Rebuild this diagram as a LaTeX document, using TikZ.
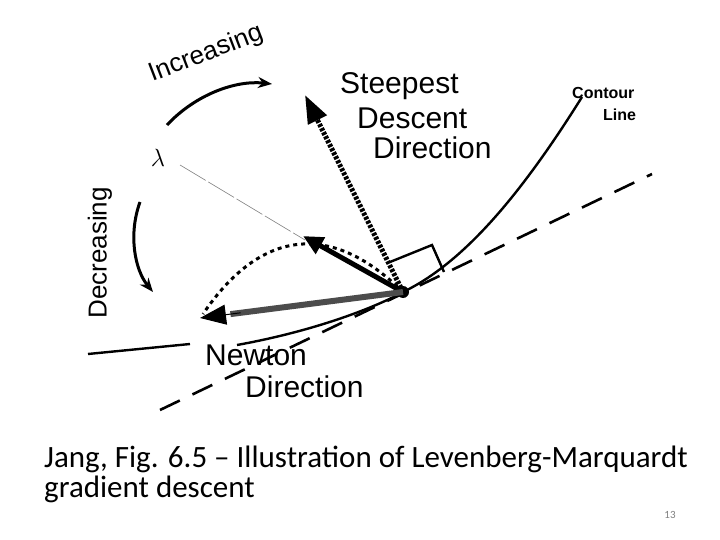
\documentclass[tikz,border=0pt]{standalone}
\usepackage{fontspec}
\setmainfont{Liberation Sans}
\newfontfamily\capfont{Carlito}
\usetikzlibrary{arrows.meta,calc}
\begin{document}
\begin{tikzpicture}[x=1pt,y=-1pt,
  lbl/.style={font=\fontsize{30}{30}\selectfont, inner sep=0, anchor=west},
  small/.style={font=\bfseries\fontsize{16}{16}\selectfont, inner sep=0, anchor=west},
  curvy/.style={line width=3pt, -{Stealth[length=14pt,width=11pt]}}]
\useasboundingbox (0,0) rectangle (720,540);
\fill[white] (0,0) rectangle (720,540);
% point
\coordinate (P) at (403,292);
\fill (P) circle (6);
% tangent dashed line
\coordinate (T1) at (160,410);
\coordinate (T2) at (652,174);
\draw[line width=2.6pt, dash pattern=on 22pt off 14pt] (T1) -- (T2);
% contour line
\coordinate (C0) at (88,354);
\coordinate (C1) at (190,344);
\coordinate (C2) at (237,345);
\coordinate (C3) at (582,97);
\draw[line width=2.4pt] (C0) -- (C1);
\draw[line width=2.4pt] (C2) .. controls (320,330) and (380,305) .. (P) .. controls (470,260) and (530,180) .. (C3);
% right angle marker
\coordinate (R1) at (390,262);
\coordinate (R2) at (432,245);
\coordinate (R3) at (444,272);
\draw[line width=2.4pt] (R1) -- (R2) -- (R3);
% thin gray line from lambda
\coordinate (L1) at (180,165);
\coordinate (L2) at (305,240);
\draw[gray, line width=0.6pt, dash pattern=on 30pt off 3pt] (L1) -- (L2);
% dotted arc
\coordinate (D) at (203,314);
\draw[line width=3pt, dash pattern=on 4pt off 4pt] (P) .. controls (330,220) and (260,230) .. (D);
% steepest descent arrow
\coordinate (S) at (305,95);
\draw[line width=5pt, dash pattern=on 3pt off 1.5pt, -{Triangle[length=28pt,width=20pt]}] (P) -- (S);
% small arrow
\coordinate (M) at (303,236);
\draw[line width=5pt, -{Triangle[length=20pt,width=18pt]}] (P) -- (M);
% newton arrow
\coordinate (N) at (200,318);
\draw[gray!60!black, line width=6pt] (P) -- ($(P)!0.85!(N)$);
\draw[line width=1pt, -{Triangle[length=26pt,width=20pt]}] ($(P)!0.8!(N)$) -- (N);
% lambda and arcs
\node[font=\fontsize{46}{46}\selectfont, inner sep=0] (lam) at (158,158) {$\lambda$};
\coordinate (I1) at (167,125);
\coordinate (I2) at (272,84);
\draw[curvy] (I1) .. controls (195,95) and (235,80) .. (I2);
\coordinate (De1) at (140,202);
\coordinate (De2) at (153,292);
\draw[curvy] (De1) .. controls (128,235) and (135,270) .. (De2);
\node[font=\fontsize{26}{26}\selectfont, rotate=21, inner sep=0] (inc) at (206,54) {Increasing};
\node[font=\fontsize{26}{26}\selectfont, rotate=90, inner sep=0] (dec) at (100,253) {Decreasing};
% labels
\node[lbl] (s1) at (340,86) {Steepest};
\node[lbl] (s2) at (357,118) {Descent};
\node[lbl] (s3) at (373,148) {Direction};
\node[small] (c1) at (572,93) {Contour};
\node[small] (c2) at (603,115) {Line};
\node[lbl] (n1) at (205,355) {Newton};
\node[lbl] (n2) at (245,387) {Direction};
% caption
\node[font=\capfont\fontsize{31}{30}\selectfont, anchor=north west, align=left, inner sep=0] (cap) at (44,446) {Jang, Fig. 6.5 – Illustration of Levenberg-Marquardt\\gradient descent};
\node[font=\capfont\fontsize{11}{11}\selectfont, text=gray, inner sep=0] (pg) at (670,515) {13};
\end{tikzpicture}
\end{document}
